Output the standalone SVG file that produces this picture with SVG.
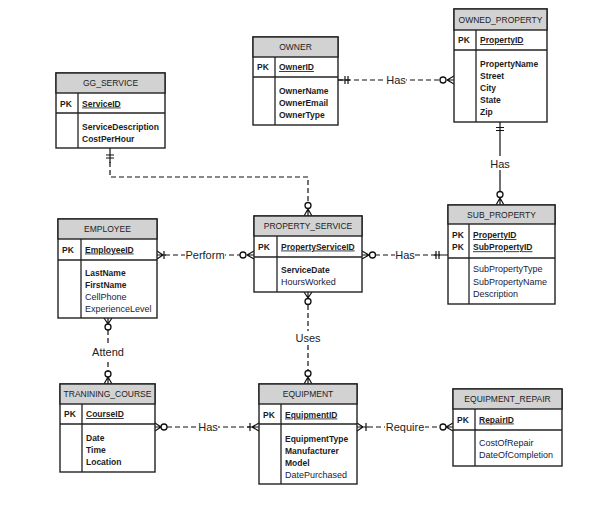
<svg xmlns="http://www.w3.org/2000/svg" width="597" height="529" viewBox="0 0 597 529">
<style>
text{font-family:"Liberation Sans",Arial,sans-serif;fill:#1c1c24}
.box{fill:#fff;stroke:#222;stroke-width:1.4}
.hdr{fill:#d2d2d2;stroke:#222;stroke-width:1.4}
.ln{stroke:#222;stroke-width:1.3}
.h{font-size:8.5px;text-anchor:middle}
.pk{font-size:8.5px;font-weight:bold}
.u{text-decoration:underline}
.b{font-size:8.5px;font-weight:bold}
.r{font-size:9px;fill:#17213c}
.lbl{font-size:11px;text-anchor:middle;fill:#222}
.c{fill:none;stroke:#111;stroke-width:1.2}
.d{stroke-dasharray:5 3}
.ci{fill:#fff;stroke:#111;stroke-width:1.3}
.bg{fill:#fff}
</style>
<rect width="597" height="529" fill="#fff"/>

<g id="connectors">
  <!-- OWNER - OWNED_PROPERTY -->
  <line class="c d" x1="338" y1="80" x2="440" y2="80"/>
  <line class="c" x1="338" y1="80" x2="350" y2="80"/>
  <path class="c" d="M345,76V84M348,76V84M447,80L454,76M447,80H454M447,80L454,84"/>
  <circle class="ci" cx="443" cy="80" r="3"/>
  <rect class="bg" x="386" y="73" width="20" height="13"/>
  <text class="lbl" x="396" y="84">Has</text>

  <!-- OWNED_PROPERTY - SUB_PROPERTY -->
  <line class="c" x1="500" y1="122" x2="500" y2="191"/>
  <path class="c" d="M496,127.5H504M496,130.5H504M500,198L496,205M500,198V205M500,198L504,205"/>
  <circle class="ci" cx="500" cy="194.5" r="3"/>
  <rect class="bg" x="489" y="156" width="22" height="14"/>
  <text class="lbl" x="500" y="167.5">Has</text>

  <!-- GG_SERVICE - PROPERTY_SERVICE -->
  <path class="c d" d="M110,162V177H308V202"/>
  <line class="c" x1="110" y1="148" x2="110" y2="163"/>
  <path class="c" d="M106,155H114M106,158H114M308,209L304,216M308,209V216M308,209L312,216"/>
  <circle class="ci" cx="308" cy="205.5" r="3"/>

  <!-- EMPLOYEE - PROPERTY_SERVICE (Perform) -->
  <line class="c d" x1="165" y1="255" x2="240" y2="255"/>
  <path class="c" d="M157,255H166M157,251L163,255L157,259M164,251V259M247,255L254,251M247,255H254M247,255L254,259"/>
  <circle class="ci" cx="243" cy="255" r="3"/>
  <rect class="bg" x="185" y="248" width="40" height="14"/>
  <text class="lbl" x="205" y="259">Perform</text>

  <!-- PROPERTY_SERVICE - SUB_PROPERTY -->
  <line class="c d" x1="375" y1="255" x2="440" y2="255"/>
  <path class="c" d="M362,251L369,255L362,259M362,255H369M436,251V259M439,251V259M434,255H448"/>
  <circle class="ci" cx="372.5" cy="255" r="3"/>
  <rect class="bg" x="395" y="248" width="20" height="14"/>
  <text class="lbl" x="405" y="259">Has</text>

  <!-- EMPLOYEE - TRAINING_COURSE (Attend) -->
  <line class="c d" x1="108" y1="330" x2="108" y2="371"/>
  <path class="c" d="M104,318L108,324L112,318M108,318V324M108,377L104,384M108,377V384M108,377L112,384"/>
  <circle class="ci" cx="108" cy="327" r="3"/>
  <circle class="ci" cx="108" cy="374" r="3"/>
  <rect class="bg" x="89" y="345" width="38" height="14"/>
  <text class="lbl" x="108" y="356">Attend</text>

  <!-- PROPERTY_SERVICE - EQUIPMENT (Uses) -->
  <line class="c d" x1="308" y1="305" x2="308" y2="371"/>
  <path class="c" d="M304,292L308,298L312,292M308,292V298M308,377L304,384M308,377V384M308,377L312,384"/>
  <circle class="ci" cx="308" cy="301.5" r="3"/>
  <circle class="ci" cx="308" cy="373.5" r="3"/>
  <rect class="bg" x="294" y="331" width="28" height="14"/>
  <text class="lbl" x="308" y="342">Uses</text>

  <!-- TRAINING_COURSE - EQUIPMENT (Has) -->
  <line class="c d" x1="167" y1="427" x2="250" y2="427"/>
  <path class="c" d="M155,423L161,427L155,431M155,427H161M250,423V431M247,427H259M252,427L259,423M252,427L259,431"/>
  <circle class="ci" cx="164" cy="427" r="3"/>
  <rect class="bg" x="198" y="420" width="20" height="14"/>
  <text class="lbl" x="208" y="431">Has</text>

  <!-- EQUIPMENT - EQUIPMENT_REPAIR (Require) -->
  <line class="c d" x1="368" y1="427" x2="440" y2="427"/>
  <path class="c" d="M357,423L363,427L357,431M357,427H368M366,423V431M446,427L453,423M446,427H453M446,427L453,431"/>
  <circle class="ci" cx="443" cy="427" r="3"/>
  <rect class="bg" x="385" y="420" width="40" height="14"/>
  <text class="lbl" x="405" y="431">Require</text>
</g>

<g id="owner">
  <rect class="box" x="253" y="37" width="85" height="88"/>
  <rect class="hdr" x="253" y="37" width="85" height="20"/>
  <line class="ln" x1="253" y1="77" x2="338" y2="77"/>
  <line class="ln" x1="275" y1="57" x2="275" y2="125"/>
  <text class="h" x="295.5" y="50">OWNER</text>
  <text class="pk" x="257" y="70">PK</text>
  <text class="pk u" x="279" y="70">OwnerID</text>
  <text class="b" x="279" y="94">OwnerName</text>
  <text class="b" x="279" y="106">OwnerEmail</text>
  <text class="b" x="279" y="118">OwnerType</text>
</g>

<g id="owned_property">
  <rect class="box" x="454" y="9" width="93" height="113"/>
  <rect class="hdr" x="454" y="9" width="93" height="21"/>
  <line class="ln" x1="454" y1="50" x2="547" y2="50"/>
  <line class="ln" x1="476" y1="30" x2="476" y2="122"/>
  <text class="h" x="500.5" y="23">OWNED_PROPERTY</text>
  <text class="pk" x="458" y="43">PK</text>
  <text class="pk u" x="480" y="43">PropertyID</text>
  <text class="b" x="480" y="66.5">PropertyName</text>
  <text class="b" x="480" y="78.5">Street</text>
  <text class="b" x="480" y="90.5">City</text>
  <text class="b" x="480" y="102.5">State</text>
  <text class="b" x="480" y="114.5">Zip</text>
</g>

<g id="gg_service">
  <rect class="box" x="56" y="73" width="109" height="75"/>
  <rect class="hdr" x="56" y="73" width="109" height="20"/>
  <line class="ln" x1="56" y1="113" x2="165" y2="113"/>
  <line class="ln" x1="78" y1="93" x2="78" y2="148"/>
  <text class="h" x="110.5" y="86">GG_SERVICE</text>
  <text class="pk" x="60" y="106.5">PK</text>
  <text class="pk u" x="82" y="106.5">ServiceID</text>
  <text class="b" x="82" y="130">ServiceDescription</text>
  <text class="b" x="82" y="142">CostPerHour</text>
</g>

<g id="employee">
  <rect class="box" x="58" y="219" width="99" height="99"/>
  <rect class="hdr" x="58" y="219" width="99" height="20"/>
  <line class="ln" x1="58" y1="260" x2="157" y2="260"/>
  <line class="ln" x1="81" y1="239" x2="81" y2="318"/>
  <text class="h" x="107.5" y="232">EMPLOYEE</text>
  <text class="pk" x="62" y="252.5">PK</text>
  <text class="pk u" x="85" y="252.5">EmployeeID</text>
  <text class="b" x="85" y="275.5">LastName</text>
  <text class="b" x="85" y="287.5">FirstName</text>
  <text class="r" x="85" y="300">CellPhone</text>
  <text class="r" x="85" y="312">ExperienceLevel</text>
</g>

<g id="property_service">
  <rect class="box" x="254" y="216" width="108" height="76"/>
  <rect class="hdr" x="254" y="216" width="108" height="20"/>
  <line class="ln" x1="254" y1="257" x2="362" y2="257"/>
  <line class="ln" x1="277" y1="236" x2="277" y2="292"/>
  <text class="h" x="308" y="229">PROPERTY_SERVICE</text>
  <text class="pk" x="258" y="249.5">PK</text>
  <text class="pk u" x="281" y="249.5">PropertyServiceID</text>
  <text class="b" x="281" y="273">ServiceDate</text>
  <text class="r" x="281" y="285">HoursWorked</text>
</g>

<g id="sub_property">
  <rect class="box" x="448" y="205" width="107" height="99"/>
  <rect class="hdr" x="448" y="205" width="107" height="19"/>
  <line class="ln" x1="448" y1="258" x2="555" y2="258"/>
  <line class="ln" x1="469" y1="224" x2="469" y2="304"/>
  <text class="h" x="501.5" y="217.5">SUB_PROPERTY</text>
  <text class="pk" x="452" y="238">PK</text>
  <text class="pk" x="452" y="250.3">PK</text>
  <text class="pk u" x="473" y="238">PropertyID</text>
  <text class="pk u" x="473" y="250.3">SubPropertyID</text>
  <text class="r" x="473" y="272.3">SubPropertyType</text>
  <text class="r" x="473" y="284.7">SubPropertyName</text>
  <text class="r" x="473" y="297">Description</text>
</g>

<g id="training_course">
  <rect class="box" x="60" y="384" width="95" height="88"/>
  <rect class="hdr" x="60" y="384" width="95" height="20"/>
  <line class="ln" x1="60" y1="424" x2="155" y2="424"/>
  <line class="ln" x1="82" y1="404" x2="82" y2="472"/>
  <text class="h" x="107.5" y="397">TRANINING_COURSE</text>
  <text class="pk" x="64" y="417">PK</text>
  <text class="pk u" x="86" y="417">CourseID</text>
  <text class="b" x="86" y="441">Date</text>
  <text class="b" x="86" y="453">Time</text>
  <text class="b" x="86" y="465">Location</text>
</g>

<g id="equipment">
  <rect class="box" x="259" y="384" width="98" height="100"/>
  <rect class="hdr" x="259" y="384" width="98" height="20"/>
  <line class="ln" x1="259" y1="424" x2="357" y2="424"/>
  <line class="ln" x1="281" y1="404" x2="281" y2="484"/>
  <text class="h" x="308" y="397">EQUIPMENT</text>
  <text class="pk" x="263" y="417.5">PK</text>
  <text class="pk u" x="285" y="417.5">EquipmentID</text>
  <text class="b" x="285" y="442">EquipmentType</text>
  <text class="b" x="285" y="454">Manufacturer</text>
  <text class="b" x="285" y="466">Model</text>
  <text class="r" x="285" y="478">DatePurchased</text>
</g>

<g id="equipment_repair">
  <rect class="box" x="453" y="389" width="109" height="77"/>
  <rect class="hdr" x="453" y="389" width="109" height="20"/>
  <line class="ln" x1="453" y1="430" x2="562" y2="430"/>
  <line class="ln" x1="475" y1="409" x2="475" y2="466"/>
  <text class="h" x="507.5" y="402">EQUIPMENT_REPAIR</text>
  <text class="pk" x="457" y="422.5">PK</text>
  <text class="pk u" x="479" y="422.5">RepairID</text>
  <text class="r" x="479" y="445.7">CostOfRepair</text>
  <text class="r" x="479" y="457.7">DateOfCompletion</text>
</g>
</svg>
